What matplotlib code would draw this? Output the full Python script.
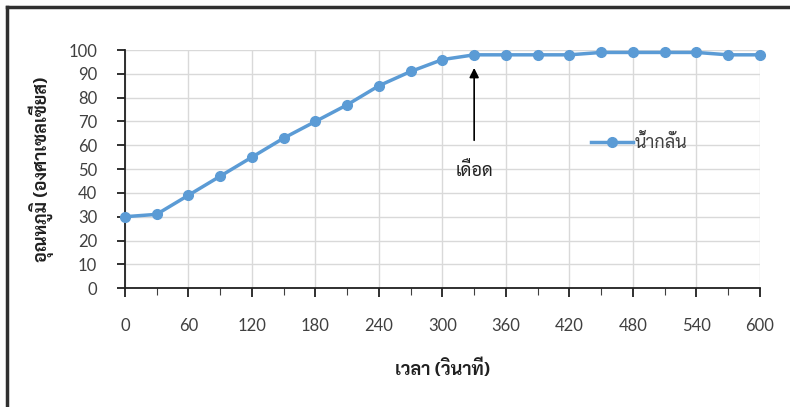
import matplotlib
matplotlib.use("Agg")
import matplotlib.pyplot as plt
from matplotlib.lines import Line2D

plt.rcParams['font.family'] = ['Lato', 'Sarabun', 'DejaVu Sans']
thai = ['Sarabun', 'DejaVu Sans']

# time in seconds, temperature of distilled water
time_s = [0, 30, 60, 90, 120, 150, 180, 210, 240, 270, 300, 330, 360,
          390, 420, 450, 480, 510, 540, 570, 600]
temp_c = [30, 31, 39, 47, 55, 63, 70, 77, 85, 91, 96, 98, 98,
          98, 98, 99, 99, 99, 99, 98, 98]
series_name = 'น้ำกลั่น'
boil_time = 330
boil_label = 'เดือด'

blue = '#5B9BD5'
text_col = '#404040'

fig = plt.figure(figsize=(7.9, 4.07), dpi=100)
ax = fig.add_axes([0.158, 0.292, 0.804, 0.585])

ax.plot(time_s, temp_c, color=blue, lw=2.5, marker='o', markersize=7,
        label=series_name, zorder=3, clip_on=False)

ax.set_xlim(0, 600)
ax.set_ylim(0, 100)
ax.set_xticks(range(0, 601, 60))
ax.set_xticks(range(0, 601, 30), minor=True)
ax.set_yticks(range(0, 101, 10))
ax.grid(True, which='major', color='#D9D9D9', lw=1, zorder=0)
ax.set_axisbelow(True)

for s in ['top', 'right']:
    ax.spines[s].set_visible(False)
for s in ['left', 'bottom']:
    ax.spines[s].set_color('#202020')
    ax.spines[s].set_linewidth(1.3)

ax.tick_params(axis='x', which='major', direction='out', length=6.5, width=1.3,
               pad=15, labelsize=12, labelcolor=text_col, color='#202020')
ax.tick_params(axis='x', which='minor', direction='out', length=5, width=0.8,
               color='#404040')
ax.tick_params(axis='y', direction='out', length=6, width=1.3, pad=14,
               labelsize=12, labelcolor=text_col, color='#202020')

ax.set_xlabel('เวลา (วินาที)', fontsize=13, fontweight='bold', color='#202020',
              labelpad=18, family=thai)
ax.set_ylabel('อุณหภูมิ (องศาเซลเซียส)', fontsize=13, fontweight='bold',
              color='#202020', labelpad=10, family=thai)

ax.annotate(boil_label, xy=(boil_time, 92.5), xytext=(boil_time, 49),
            ha='center', va='center', fontsize=13, color='#202020', family=thai,
            arrowprops=dict(arrowstyle='-|>', color='black', lw=1.2,
                            mutation_scale=14, shrinkA=14, shrinkB=0))

ax.legend(loc='center left', bbox_to_anchor=(0.72, 0.61), frameon=False,
          handlelength=2.3, handletextpad=0.1, borderpad=0,
          labelcolor=text_col, prop={'family': thai, 'size': 13})

# outer frame (top and left edge only)
fig.add_artist(Line2D([7 / 790, 7 / 790], [0, 1 - 7 / 407], color='#303030',
                      lw=2.5, transform=fig.transFigure))
fig.add_artist(Line2D([7 / 790, 1], [1 - 7 / 407, 1 - 7 / 407], color='#303030',
                      lw=2.5, transform=fig.transFigure))

fig.savefig('out.png', dpi=100)
